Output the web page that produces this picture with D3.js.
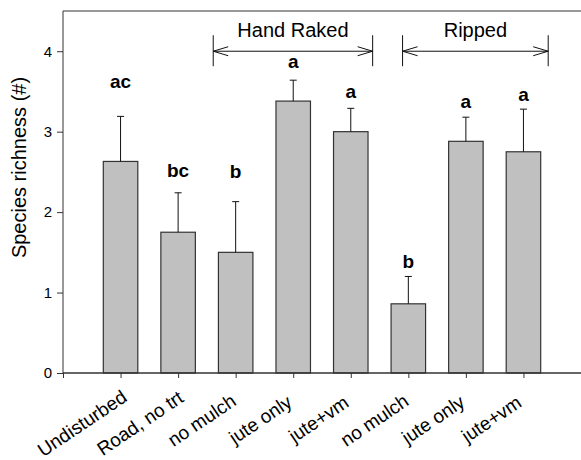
<!DOCTYPE html>
<html>
<head>
<meta charset="utf-8">
<script src="https://cdn.jsdelivr.net/npm/d3@7"></script>
<style>
  body { margin: 0; background: #fff; }
  text { font-family: "Liberation Sans", Arial, sans-serif; fill: #000; }
</style>
</head>
<body>
<svg id="chart" width="581" height="460"></svg>
<script>
// DATA

var categories = ["Undisturbed", "Road, no trt", "no mulch", "jute only", "jute+vm",
                  "no mulch", "jute only", "jute+vm"];
var means      = [2.63, 1.75, 1.50, 3.38, 3.00, 0.86, 2.88, 2.75];
var errTops    = [3.19, 2.24, 2.13, 3.64, 3.29, 1.20, 3.18, 3.28];
var letters    = ["ac", "bc", "b", "a", "a", "b", "a", "a"];
var letterY    = [3.54, 2.44, 2.43, 3.79, 3.42, 1.30, 3.30, 3.38];
var yTicks     = [0, 1, 2, 3, 4];
var groups     = ["Hand Raked", "Ripped"];
var groupFrom  = [2.61, 5.90];
var groupTo    = [5.38, 8.43];
var groupLevel = 4.0;

// CHART

var svg = d3.select("#chart");

var x = d3.scaleLinear().domain([0, 9]).range([63, 581]);
var y = d3.scaleLinear().domain([0, 4.5]).range([373, 11]);
var barW = 34.5;

// frame: left axis and top line
svg.append("line")
    .attr("x1", 63).attr("x2", 581).attr("y1", 11).attr("y2", 11)
    .attr("stroke", "#333").attr("stroke-width", 1);
svg.append("line")
    .attr("x1", 63).attr("x2", 63).attr("y1", 11).attr("y2", 373)
    .attr("stroke", "#333").attr("stroke-width", 1);

// bars
svg.selectAll("rect.bar")
    .data(means)
  .enter().append("rect")
    .attr("class", "bar")
    .attr("x", function(d, i) { return x(i + 1) - barW / 2; })
    .attr("y", function(d) { return y(d); })
    .attr("width", barW)
    .attr("height", function(d) { return y(0) - y(d); })
    .attr("fill", "#c0c0c0")
    .attr("stroke", "#333")
    .attr("stroke-width", 1.2);

// error bars (upper only)
svg.selectAll("line.err")
    .data(errTops)
  .enter().append("line")
    .attr("class", "err")
    .attr("x1", function(d, i) { return x(i + 1); })
    .attr("x2", function(d, i) { return x(i + 1); })
    .attr("y1", function(d, i) { return y(means[i]); })
    .attr("y2", function(d) { return y(d); })
    .attr("stroke", "#111").attr("stroke-width", 1);
svg.selectAll("line.cap")
    .data(errTops)
  .enter().append("line")
    .attr("class", "cap")
    .attr("x1", function(d, i) { return x(i + 1) - 3.5; })
    .attr("x2", function(d, i) { return x(i + 1) + 3.5; })
    .attr("y1", function(d) { return y(d); })
    .attr("y2", function(d) { return y(d); })
    .attr("stroke", "#111").attr("stroke-width", 1);

// significance letters
svg.selectAll("text.letter")
    .data(letters)
  .enter().append("text")
    .attr("class", "letter")
    .attr("x", function(d, i) { return x(i + 1); })
    .attr("y", function(d, i) { return y(letterY[i]); })
    .attr("text-anchor", "middle")
    .style("font-size", "19px")
    .style("font-weight", "bold")
    .text(function(d) { return d; });

// x axis
var xAxis = d3.axisBottom(x)
    .tickValues(d3.range(0, categories.length + 1))
    .tickSize(5)
    .tickFormat(function(d) { return d === 0 ? "" : categories[d - 1]; });

var gx = svg.append("g")
    .attr("transform", "translate(0,373)")
    .call(xAxis);
gx.select(".domain").attr("stroke", "#333").attr("stroke-width", 1.6)
    .attr("d", "M63,0H581");
gx.selectAll(".tick line").attr("stroke", "#333");
// rotated labels: shorter ones sit a bit further back along the slant
gx.selectAll(".tick text")
    .attr("y", 0).attr("dy", 0)
    .attr("text-anchor", "end")
    .style("font-size", "19px")
    .attr("transform", "translate(14.8,22) rotate(-34)")
    .attr("x", function() {
        var len = this.getComputedTextLength();
        return -9.4 - 0.28 * (102 - len);
    });

// y axis
var yAxis = d3.axisLeft(y)
    .tickValues(yTicks)
    .tickSize(6)
    .tickPadding(5)
    .tickFormat(d3.format("d"));

var gy = svg.append("g")
    .attr("transform", "translate(63,0)")
    .call(yAxis);
gy.select(".domain").remove();
gy.selectAll(".tick line").attr("stroke", "#333");
gy.selectAll(".tick text").style("font-size", "15px");

svg.append("text")
    .attr("transform", "translate(26,167.5) rotate(-90)")
    .attr("text-anchor", "middle")
    .style("font-size", "20px")
    .text("Species richness (#)");

// treatment group brackets
groups.forEach(function(name, i) {
    var x0 = x(groupFrom[i]), x1 = x(groupTo[i]), yy = y(groupLevel);
    var g = svg.append("g").attr("stroke", "#111").attr("stroke-width", 1).attr("fill", "none");
    g.append("line").attr("x1", x0).attr("x2", x1).attr("y1", yy).attr("y2", yy);
    g.append("line").attr("x1", x0).attr("x2", x0).attr("y1", yy - 16).attr("y2", yy + 15);
    g.append("line").attr("x1", x1).attr("x2", x1).attr("y1", yy - 16).attr("y2", yy + 15);
    g.append("path").attr("d", "M" + (x0 + 15) + "," + (yy - 4.5) + "L" + x0 + "," + yy + "L" + (x0 + 15) + "," + (yy + 4.5));
    g.append("path").attr("d", "M" + (x1 - 15) + "," + (yy - 4.5) + "L" + x1 + "," + yy + "L" + (x1 - 15) + "," + (yy + 4.5));
    svg.append("text")
        .attr("x", (x0 + x1) / 2)
        .attr("y", yy - 14)
        .attr("text-anchor", "middle")
        .style("font-size", "20px")
        .text(name);
});
</script>
</body>
</html>
